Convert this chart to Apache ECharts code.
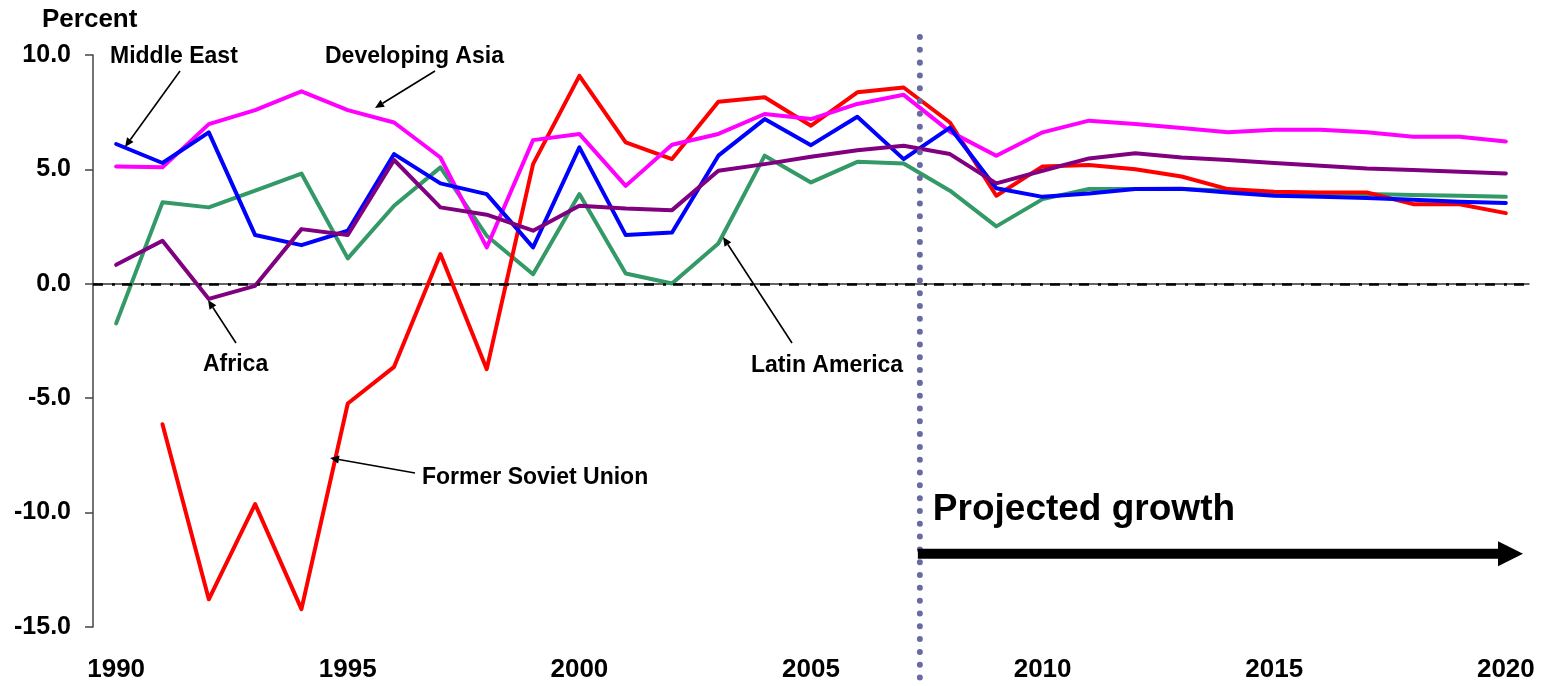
<!DOCTYPE html>
<html>
<head>
<meta charset="utf-8">
<title>Economic growth by region</title>
<script src="https://cdn.jsdelivr.net/npm/echarts@6/dist/echarts.min.js"></script>
<style>
html, body { margin: 0; padding: 0; background: #fff; }
#J_chart { width: 1549px; height: 686px; }
</style>
</head>
<body>
<div id="J_chart"></div>
<script>
// years on the x axis
var years = [1990, 1991, 1992, 1993, 1994, 1995, 1996, 1997, 1998, 1999,
    2000, 2001, 2002, 2003, 2004, 2005, 2006, 2007, 2008, 2009,
    2010, 2011, 2012, 2013, 2014, 2015, 2016, 2017, 2018, 2019, 2020];
var yearLabels = [1990, 1995, 2000, 2005, 2010, 2015, 2020];

// growth, percent
var middleEast = [6.11, 5.28, 6.62, 2.13, 1.69, 2.32, 5.67, 4.39, 3.92, 1.59,
    5.96, 2.13, 2.24, 5.6, 7.2, 6.06, 7.3, 5.45, 6.83, 4.18,
    3.8, 3.95, 4.14, 4.15, 3.99, 3.85, 3.8, 3.75, 3.67, 3.59, 3.53];
var developingAsia = [5.13, 5.09, 6.98, 7.59, 8.41, 7.59, 7.05, 5.52, 1.59, 6.28,
    6.55, 4.28, 6.08, 6.55, 7.42, 7.2, 7.86, 8.26, 6.65, 5.6,
    6.62, 7.13, 6.98, 6.81, 6.62, 6.73, 6.73, 6.62, 6.43, 6.43, 6.22];
var formerSovietUnion = [null, -6.14, -13.79, -9.63, -14.22, -5.23, -3.63, 1.3, -3.73, 5.23,
    9.09, 6.18, 5.45, 7.96, 8.15, 6.91, 8.37, 8.58, 7.05, 3.85,
    5.13, 5.19, 5.01, 4.69, 4.14, 4.02, 3.99, 3.99, 3.48, 3.48, 3.09];
var latinAmerica = [-1.73, 3.56, 3.34, 4.07, 4.82, 1.11, 3.41, 5.09, 2.1, 0.42,
    3.92, 0.45, 0.01, 1.76, 5.6, 4.43, 5.33, 5.26, 4.07, 2.51,
    3.7, 4.14, 4.14, 4.14, 4.07, 3.99, 3.95, 3.92, 3.88, 3.85, 3.8];
var africa = [0.83, 1.88, -0.66, -0.09, 2.39, 2.13, 5.41, 3.34, 3.02, 2.32,
    3.41, 3.29, 3.22, 4.94, 5.23, 5.55, 5.84, 6.03, 5.67, 4.39,
    4.94, 5.48, 5.71, 5.52, 5.41, 5.28, 5.16, 5.04, 4.97, 4.9, 4.82];

var projectionStart = 2007.35;

var FONT = "'Liberation Sans', Arial, sans-serif";

function pairs(vals){
    return years.map(function(y, i){ return [y, vals[i]]; });
}

function lineSeries(name, vals, color){
    return {
        name: name,
        type: 'line',
        data: pairs(vals),
        symbol: 'none',
        connectNulls: false,
        lineStyle: { color: color, width: 4, cap: 'round', join: 'round' },
        itemStyle: { color: color },
        emphasis: { disabled: true },
        silent: true
    };
}

var chart = echarts.init(document.getElementById('J_chart'), null, { renderer: 'canvas' });

var series = [
    lineSeries('Latin America', latinAmerica, '#339966'),
    lineSeries('Former Soviet Union', formerSovietUnion, '#ff0000'),
    lineSeries('Developing Asia', developingAsia, '#ff00ff'),
    lineSeries('Middle East', middleEast, '#0000ff'),
    lineSeries('Africa', africa, '#800080')
];
// zero reference line
series[0].markLine = {
    silent: true,
    symbol: 'none',
    label: { show: false },
    lineStyle: { color: '#000', width: 2.5, type: [10, 9, 3, 7] },
    data: [{ yAxis: 0 }]
};

chart.setOption({
    animation: false,
    grid: { left: 93, right: 20, top: 55, bottom: 59, containLabel: false },
    xAxis: {
        type: 'value',
        min: 1989.5,
        max: 2020.5,
        splitLine: { show: false },
        axisTick: { show: false },
        axisLine: { lineStyle: { color: '#333', width: 1.5 } },
        axisLabel: {
            customValues: yearLabels,
            margin: 30,
            color: '#000',
            fontSize: 26,
            fontWeight: 'bold',
            fontFamily: FONT,
            formatter: function(v){ return String(v); }
        }
    },
    yAxis: {
        type: 'value',
        min: -15,
        max: 10,
        interval: 5,
        splitLine: { show: false },
        axisLine: { show: true, lineStyle: { color: '#444', width: 1.5 } },
        axisTick: { show: true, length: 8, lineStyle: { color: '#444', width: 1.5 } },
        axisLabel: {
            margin: 22,
            color: '#000',
            fontSize: 25,
            fontWeight: 'bold',
            fontFamily: FONT,
            formatter: function(v){ return v.toFixed(1); }
        }
    },
    series: series
});

// annotations
function txt(str, x, y, size){
    return {
        type: 'text', silent: true, z: 20,
        style: { text: str, x: x, y: y, fill: '#000', font: 'bold ' + size + 'px ' + FONT, textVerticalAlign: 'middle' }
    };
}
function thinArrow(x1, y1, x2, y2){
    var ang = Math.atan2(y2 - y1, x2 - x1), len = 9, w = 4;
    var bx = x2 - len * Math.cos(ang), by = y2 - len * Math.sin(ang);
    var nx = -Math.sin(ang) * w, ny = Math.cos(ang) * w;
    return [
        { type: 'line', silent: true, z: 20, shape: { x1: x1, y1: y1, x2: bx, y2: by }, style: { stroke: '#000', lineWidth: 1.6 } },
        { type: 'polygon', silent: true, z: 20, shape: { points: [[x2, y2], [bx + nx, by + ny], [bx - nx, by - ny]] }, style: { fill: '#000' } }
    ];
}

var divX = chart.convertToPixel({ xAxisIndex: 0 }, projectionStart);
var arrowY = chart.convertToPixel({ yAxisIndex: 0 }, -11.8);
var endX = chart.convertToPixel({ xAxisIndex: 0 }, 2020.37);

var graphics = [
    txt('Percent', 42, 20, 26),
    txt('Middle East', 110, 57, 23),
    txt('Developing Asia', 325, 57, 23),
    txt('Africa', 203, 365, 23),
    txt('Former Soviet Union', 422, 478, 23),
    txt('Latin America', 751, 366, 23),
    txt('Projected growth', divX + 13, 510, 37),
    {
        type: 'line', silent: true, z: 15,
        shape: { x1: divX, y1: 37, x2: divX, y2: 690 },
        style: { stroke: '#6a6aa3', lineWidth: 6, lineCap: 'round', lineDash: [0.01, 12.8] }
    },
    {
        type: 'line', silent: true, z: 21,
        shape: { x1: divX - 2, y1: arrowY, x2: endX - 24, y2: arrowY },
        style: { stroke: '#000', lineWidth: 10 }
    },
    {
        type: 'polygon', silent: true, z: 21,
        shape: { points: [[endX - 25, arrowY - 12.5], [endX, arrowY], [endX - 25, arrowY + 12.5]] },
        style: { fill: '#000' }
    }
];
graphics = graphics
    .concat(thinArrow(180, 71, 125, 147))
    .concat(thinArrow(435, 71, 375, 108))
    .concat(thinArrow(236, 343, 208, 300))
    .concat(thinArrow(415, 473, 330, 458))
    .concat(thinArrow(792, 343, 723, 237));

chart.setOption({ graphic: graphics });
</script>
</body>
</html>
